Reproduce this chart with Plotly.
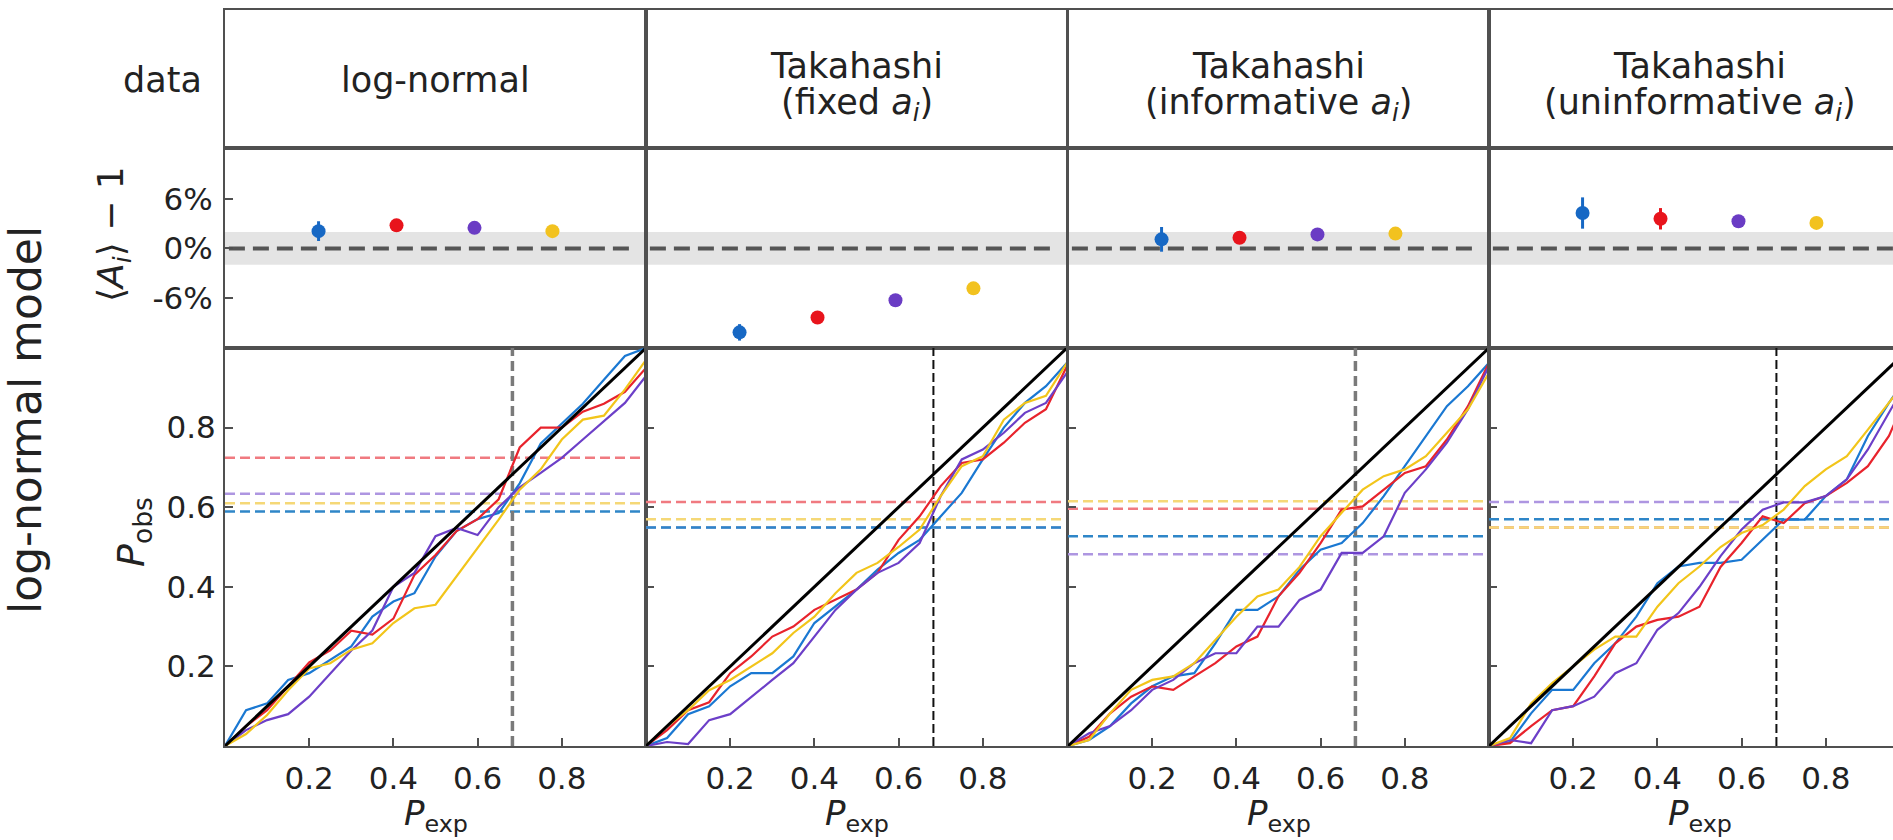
import plotly.graph_objects as go

W, H = 1893, 840

# ---------------- data ----------------
p_exp = [0.00, 0.05, 0.10, 0.15, 0.20, 0.25, 0.30, 0.35, 0.40, 0.45, 0.50,
         0.55, 0.60, 0.65, 0.70, 0.75, 0.80, 0.85, 0.90, 0.95, 1.00]

bin_names = ["bin 1", "bin 2", "bin 3", "bin 4"]
bin_x = [1, 2, 3, 4]

header_top = ["log-normal", "Takahashi", "Takahashi", "Takahashi"]
header_bottom = ["", "(fixed <i>a<sub>i</sub></i>)",
                 "(informative <i>a<sub>i</sub></i>)",
                 "(uninformative <i>a<sub>i</sub></i>)"]

# mean amplitude offset <A_i> - 1 in percent, per bin
lognormal_bias = [2.1, 2.8, 2.5, 2.1]
lognormal_bias_err = [1.2, 0.4, 0.4, 0.4]
fixed_bias = [-10.2, -8.4, -6.3, -4.85]
fixed_bias_err = [1.0, 0.6, 0.5, 0.4]
informative_bias = [1.1, 1.3, 1.7, 1.8]
informative_bias_err = [1.5, 0.6, 0.4, 0.4]
uninformative_bias = [4.3, 3.6, 3.3, 3.1]
uninformative_bias_err = [1.9, 1.3, 0.7, 0.5]

# P-P curves (P_obs at each P_exp) per bin
lognormal_blue = [0, 0.09, 0.107, 0.166, 0.183, 0.216, 0.25, 0.325, 0.363, 0.384, 0.476,
                  0.54, 0.57, 0.585, 0.66, 0.76, 0.81, 0.86, 0.92, 0.98, 1.0]
lognormal_red = [0, 0.05, 0.09, 0.15, 0.21, 0.24, 0.29, 0.28, 0.32, 0.43, 0.48,
                 0.54, 0.57, 0.62, 0.75, 0.80, 0.80, 0.84, 0.86, 0.89, 0.95]
lognormal_purple = [0, 0.04, 0.065, 0.08, 0.124, 0.183, 0.24, 0.29, 0.40, 0.435, 0.527,
                    0.548, 0.53, 0.60, 0.65, 0.686, 0.724, 0.77, 0.816, 0.862, 0.93]
lognormal_yellow = [0, 0.03, 0.078, 0.14, 0.195, 0.208, 0.242, 0.258, 0.309, 0.346, 0.355,
                    0.426, 0.50, 0.569, 0.644, 0.695, 0.77, 0.82, 0.83, 0.896, 0.97]

fixed_blue = [0, 0.02, 0.08, 0.10, 0.15, 0.183, 0.183, 0.225, 0.309, 0.35, 0.393,
              0.443, 0.485, 0.518, 0.577, 0.636, 0.72, 0.80, 0.862, 0.904, 0.963]
fixed_red = [0, 0.04, 0.09, 0.11, 0.183, 0.225, 0.275, 0.30, 0.342, 0.367, 0.393,
             0.435, 0.518, 0.577, 0.653, 0.711, 0.72, 0.762, 0.812, 0.846, 0.955]
fixed_purple = [0, 0.01, 0.005, 0.065, 0.08, 0.124, 0.166, 0.208, 0.275, 0.342, 0.393,
                0.435, 0.46, 0.51, 0.628, 0.72, 0.745, 0.787, 0.837, 0.862, 0.938]
fixed_yellow = [0, 0.05, 0.09, 0.14, 0.166, 0.20, 0.233, 0.284, 0.325, 0.384, 0.435,
                0.46, 0.50, 0.544, 0.628, 0.703, 0.728, 0.82, 0.862, 0.88, 0.963]

informative_blue = [0, 0.015, 0.05, 0.107, 0.15, 0.175, 0.183, 0.258, 0.342, 0.342, 0.376,
                    0.443, 0.493, 0.51, 0.56, 0.628, 0.703, 0.779, 0.854, 0.904, 0.963]
informative_red = [0, 0.023, 0.082, 0.124, 0.15, 0.141, 0.175, 0.208, 0.25, 0.275, 0.376,
                   0.435, 0.51, 0.594, 0.602, 0.644, 0.686, 0.703, 0.77, 0.854, 0.963]
informative_purple = [0, 0.032, 0.05, 0.09, 0.141, 0.166, 0.208, 0.233, 0.233, 0.30, 0.30,
                      0.367, 0.393, 0.485, 0.485, 0.527, 0.636, 0.695, 0.762, 0.846, 0.955]
informative_yellow = [0, 0.015, 0.082, 0.141, 0.166, 0.175, 0.208, 0.267, 0.325, 0.376, 0.393,
                      0.45, 0.527, 0.586, 0.644, 0.678, 0.695, 0.728, 0.787, 0.846, 0.938]

uninformative_blue = [0, 0.01, 0.082, 0.141, 0.141, 0.208, 0.258, 0.325, 0.409, 0.451, 0.46,
                      0.46, 0.468, 0.518, 0.569, 0.569, 0.628, 0.67, 0.779, 0.862, 0.94]
uninformative_red = [0, 0.007, 0.05, 0.09, 0.10, 0.175, 0.258, 0.30, 0.317, 0.325, 0.35,
                     0.45, 0.51, 0.577, 0.56, 0.61, 0.628, 0.661, 0.703, 0.779, 0.90]
uninformative_purple = [0, 0.015, 0.007, 0.09, 0.10, 0.124, 0.183, 0.208, 0.292, 0.334, 0.40,
                        0.477, 0.544, 0.594, 0.612, 0.612, 0.628, 0.67, 0.745, 0.837, 0.93]
uninformative_yellow = [0, 0.02, 0.107, 0.158, 0.20, 0.242, 0.275, 0.275, 0.35, 0.409, 0.451,
                        0.50, 0.535, 0.555, 0.594, 0.653, 0.695, 0.728, 0.795, 0.862, 0.93]

# P_obs at the 1-sigma level of P_exp, per bin (blue, red, purple, yellow)
one_sigma = 0.6827
lognormal_ref = [0.589, 0.724, 0.634, 0.610]
fixed_ref = [0.549, 0.613, 0.549, 0.570]
informative_ref = [0.527, 0.596, 0.482, 0.615]
uninformative_ref = [0.570, 0.549, 0.613, 0.549]

# ---------------- styling ----------------
FONT = "DejaVu Sans"
TXT = "#222222"
BORDER = "#505050"
COLORS = ["#1a78d2", "#e8232c", "#6c3fc8", "#f2c51a"]
MARK_COLORS = ["#1768c4", "#e8141c", "#6a3cc4", "#f2c21f"]
REF_COLORS = ["#2f86c8", "#f07a80", "#ae96e1", "#f5d877"]
TICK_SIZE = 31
LABEL_SIZE = 35

panel_bias = [(lognormal_bias, lognormal_bias_err), (fixed_bias, fixed_bias_err),
              (informative_bias, informative_bias_err), (uninformative_bias, uninformative_bias_err)]
panel_curves = [
    [lognormal_blue, lognormal_red, lognormal_purple, lognormal_yellow],
    [fixed_blue, fixed_red, fixed_purple, fixed_yellow],
    [informative_blue, informative_red, informative_purple, informative_yellow],
    [uninformative_blue, uninformative_red, uninformative_purple, uninformative_yellow],
]
panel_refs = [lognormal_ref, fixed_ref, informative_ref, uninformative_ref]
# vertical marker style per column
vline_style = [
    dict(color="#7a7a7a", width=3.5, dash="10px,5px"),
    dict(color="#111111", width=2, dash="9px,4px"),
    dict(color="#7a7a7a", width=3.5, dash="10px,5px"),
    dict(color="#111111", width=2, dash="9px,4px"),
]

# column edges in pixels; the last panel runs past the right edge of the page
col_px = [225, 646, 1068, 1489]
col_w = 421
row_px = {"head": (10, 148), "mid": (148, 348), "bot": (348, 746)}


def xdom(c):
    left = col_px[c]
    right = min(left + col_w, W)
    return [left / W, right / W], (right - left) / col_w


def ydom(row):
    top, bot = row_px[row]
    return [1 - bot / H, 1 - top / H]


def text(s, xpx, ypx, size, angle=0, xanchor="center"):
    return dict(text=s, x=xpx / W, y=1 - ypx / H, xref="paper", yref="paper",
                showarrow=False, textangle=angle, font=dict(family=FONT, size=size, color=TXT),
                xanchor=xanchor, yanchor="middle")


fig = go.Figure()
layout = dict(
    width=W, height=H, margin=dict(l=0, r=0, t=0, b=0),
    paper_bgcolor="white", plot_bgcolor="white", showlegend=False,
    font=dict(family=FONT, color=TXT, size=TICK_SIZE),
)
shapes = []
annotations = []

MID_LO, MID_HI = -0.2, 5.2
tickfont = dict(family=FONT, size=TICK_SIZE, color=TXT)

for c in range(4):
    dom, frac = xdom(c)
    last = c == 3
    ids = {"head": c + 1, "mid": c + 5, "bot": c + 9}
    for row, n in ids.items():
        sfx = "" if n == 1 else str(n)
        xa = dict(domain=dom, anchor=f"y{sfx}", showgrid=False, zeroline=False,
                  showline=True, linecolor=BORDER, linewidth=2, mirror=True, fixedrange=True)
        ya = dict(domain=ydom(row), anchor=f"x{sfx}", showgrid=False, zeroline=False,
                  showline=True, linecolor=BORDER, linewidth=2, mirror=not last, fixedrange=True)
        if row == "head":
            xa.update(range=[0, 1], showticklabels=False, ticks="")
            ya.update(range=[0, 1], showticklabels=False, ticks="")
            # empty cell so the header box gets drawn
            fig.add_trace(go.Scatter(x=[0.5], y=[0.5], mode="markers", xaxis=f"x{sfx}",
                                     yaxis=f"y{sfx}", marker=dict(opacity=0),
                                     hoverinfo="skip"))
        elif row == "mid":
            xa.update(range=[MID_LO, MID_LO + (MID_HI - MID_LO) * frac], showticklabels=False, ticks="")
            ya.update(range=[-12.1, 12.2])
            if c == 0:
                ya.update(tickvals=[-6, 0, 6], ticktext=["-6%", "0%", "6%"], ticks="inside",
                          ticklen=8, tickwidth=1.5, tickcolor=BORDER, tickfont=tickfont,
                          ticklabelstandoff=4)
            else:
                ya.update(showticklabels=False, ticks="")
        else:
            xa.update(range=[0, frac], tickvals=[0.2, 0.4, 0.6, 0.8],
                      ticktext=["0.2", "0.4", "0.6", "0.8"], ticks="inside", ticklen=8,
                      tickwidth=1.5, tickcolor=BORDER, tickfont=tickfont, ticklabelstandoff=4)
            ya.update(range=[0, 1], tickvals=[0.2, 0.4, 0.6, 0.8],
                      ticktext=["0.2", "0.4", "0.6", "0.8"], ticks="inside", ticklen=8,
                      tickwidth=1.5, tickcolor=BORDER, tickfont=tickfont,
                      showticklabels=(c == 0), ticklabelstandoff=1)
        layout["xaxis" + sfx] = xa
        layout["yaxis" + sfx] = ya

    # ---- middle row: bias of the mean amplitude
    mx, my = f"x{c + 5}", f"y{c + 5}"
    shapes.append(dict(type="rect", xref=f"{mx} domain", yref=my, x0=0, x1=1, y0=-2, y1=2,
                       fillcolor="#e4e4e4", line=dict(width=0), layer="below"))
    fig.add_trace(go.Scatter(x=[-0.15, 5.0], y=[0, 0], mode="lines", xaxis=mx, yaxis=my,
                             line=dict(color="#555555", width=4, dash="16px,8px"),
                             hoverinfo="skip"))
    vals, errs = panel_bias[c]
    for k in range(4):
        fig.add_trace(go.Scatter(
            x=[bin_x[k]], y=[vals[k]], mode="markers", xaxis=mx, yaxis=my, name=bin_names[k],
            marker=dict(color=MARK_COLORS[k], size=14, line=dict(width=0)),
            error_y=dict(type="data", array=[errs[k]], color=MARK_COLORS[k], thickness=3, width=0),
        ))

    # ---- bottom row: P-P curves
    bx, by = f"x{c + 9}", f"y{c + 9}"
    refs = panel_refs[c]
    for k in [2, 1, 0, 3]:
        fig.add_trace(go.Scatter(x=[0, 1], y=[refs[k], refs[k]], mode="lines", xaxis=bx, yaxis=by,
                                 line=dict(color=REF_COLORS[k], width=2.5, dash="10px,5px"),
                                 hoverinfo="skip"))
    fig.add_trace(go.Scatter(x=[one_sigma, one_sigma], y=[0, 1], mode="lines", xaxis=bx, yaxis=by,
                             line=vline_style[c], hoverinfo="skip"))
    for k in range(4):
        fig.add_trace(go.Scatter(x=p_exp, y=panel_curves[c][k], mode="lines", xaxis=bx, yaxis=by,
                                 name=bin_names[k], line=dict(color=COLORS[k], width=2.2)))
    fig.add_trace(go.Scatter(x=[0, 1], y=[0, 1], mode="lines", xaxis=bx, yaxis=by,
                             line=dict(color="black", width=3), hoverinfo="skip"))

    # ---- header text
    cx = col_px[c] + col_w / 2
    if header_bottom[c]:
        annotations.append(text(header_top[c], cx, 66, LABEL_SIZE))
        annotations.append(text(header_bottom[c], cx, 104, LABEL_SIZE))
    else:
        annotations.append(text(header_top[c], cx, 80, LABEL_SIZE))
    # x-axis title
    annotations.append(text("<i>P</i><sub>exp</sub>", cx, 815, 34))

# row / axis labels on the left
annotations += [
    text("data", 204, 80, LABEL_SIZE, xanchor="right"),
    text("log-normal model", 25, 420, 44, angle=-90),
    text("⟨<i>A<sub>i</sub></i>⟩ − 1", 113, 234, 36, angle=-90),
    text("<i>P</i><sub>obs</sub>", 133, 532, 38, angle=-90),
]

layout["shapes"] = shapes
layout["annotations"] = annotations
fig.update_layout(**layout)
fig.write_html("out.html")
